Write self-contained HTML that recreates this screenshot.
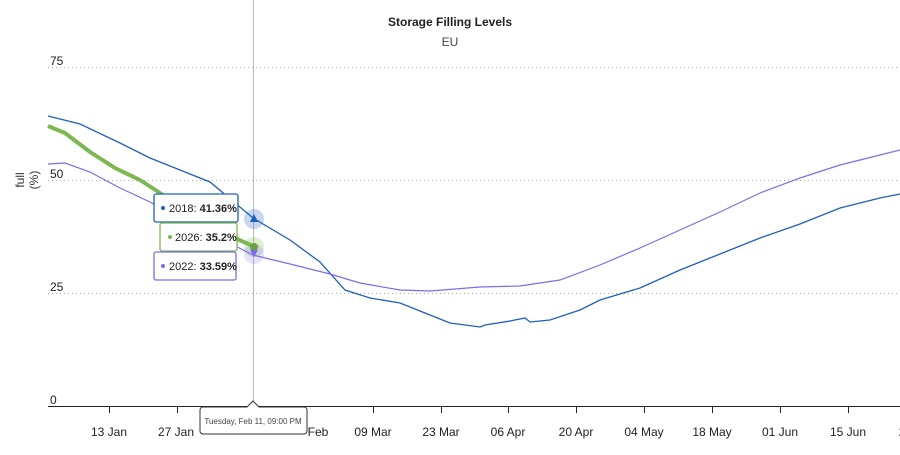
<!DOCTYPE html>
<html><head><meta charset="utf-8"><style>
body{margin:0;background:#fff;font-family:"Liberation Sans",sans-serif}
</style></head><body>
<svg width="900" height="450" xmlns="http://www.w3.org/2000/svg" font-family="Liberation Sans, sans-serif">
<rect width="900" height="450" fill="#fff"/>
<text x="450" y="26" text-anchor="middle" font-size="12" font-weight="bold" fill="#222">Storage Filling Levels</text>
<text x="450" y="46" text-anchor="middle" font-size="12" fill="#444">EU</text>
<g stroke="#b0a890" stroke-dasharray="1,3" stroke-width="1">
<line x1="48" y1="67.5" x2="900" y2="67.5"/><line x1="48" y1="180.5" x2="900" y2="180.5"/><line x1="48" y1="293.5" x2="900" y2="293.5"/>
</g>
<g font-size="12" fill="#222">
<text x="50" y="65">75</text><text x="50" y="178">50</text><text x="50" y="291">25</text><text x="50" y="404">0</text>
</g>
<text transform="translate(24,180) rotate(-90)" text-anchor="middle" font-size="12" fill="#333">full</text>
<text transform="translate(38,180) rotate(-90)" text-anchor="middle" font-size="12" fill="#333">(%)</text>
<line x1="48" y1="406.5" x2="900" y2="406.5" stroke="#222"/>
<g stroke="#222">
<line x1="109.5" y1="406" x2="109.5" y2="413"/><line x1="177.5" y1="406" x2="177.5" y2="413"/><line x1="305.5" y1="406" x2="305.5" y2="413"/><line x1="373.5" y1="406" x2="373.5" y2="413"/><line x1="441.5" y1="406" x2="441.5" y2="413"/><line x1="508.5" y1="406" x2="508.5" y2="413"/><line x1="576.5" y1="406" x2="576.5" y2="413"/><line x1="644.5" y1="406" x2="644.5" y2="413"/><line x1="712.5" y1="406" x2="712.5" y2="413"/><line x1="780.5" y1="406" x2="780.5" y2="413"/><line x1="848.5" y1="406" x2="848.5" y2="413"/>
</g>
<g font-size="12" fill="#222" text-anchor="middle">
<text x="109" y="436">13 Jan</text><text x="176" y="436">27 Jan</text><text x="318" y="436">Feb</text><text x="373" y="436">09 Mar</text><text x="441" y="436">23 Mar</text><text x="508" y="436">06 Apr</text><text x="576" y="436">20 Apr</text><text x="644" y="436">04 May</text><text x="712" y="436">18 May</text><text x="780" y="436">01 Jun</text><text x="848" y="436">15 Jun</text><text x="902" y="436">2</text>
</g>
<line x1="253.5" y1="0" x2="253.5" y2="406" stroke="#bbb"/>
<polyline fill="none" stroke="#1f5fbf" stroke-width="1.3" points="48,116 80,124 120,143 150,158 180,170 210,182 253,218 290,240 320,262 345,290 370,298 400,303 430,315 450,323 480,327 485,325 510,321 525,318 530,322 550,320 580,310 600,300 640,288 680,270 720,254 760,238 800,224 840,208 880,198 900,194"/>
<polyline fill="none" stroke="#7b6cf0" stroke-width="1.2" points="48,164 65,163 90,172 120,188 150,202 180,218 210,233 253,255 290,264 330,274 360,283 400,290 430,291 480,287 520,286 560,280 600,265 640,248 680,230 720,212 760,193 800,178 840,165 880,155 900,150"/>
<polyline fill="none" stroke="#7cb850" stroke-width="4" stroke-linejoin="round" points="48,126 65,133 90,152 115,168 140,180 160,193 200,218 230,236 253,246"/>
<circle cx="254" cy="219" r="10" fill="#1f5fbf" opacity="0.25"/>
<circle cx="254" cy="247" r="10" fill="#7cb850" opacity="0.25"/>
<circle cx="254" cy="254" r="10" fill="#7b6cf0" opacity="0.2"/>
<circle cx="254" cy="247" r="4" fill="#6aa040"/>
<path d="M250,222 L254,214 L258,222Z" fill="#1f5fbf"/>
<path d="M250,250 L254,257 L258,250Z" fill="#7b6cf0"/>
<g font-size="11" fill="#222">
<rect x="154" y="194" width="84" height="28" rx="2" fill="#fff" stroke="#1f5fbf" stroke-width="1.3"/>
<circle cx="163" cy="208" r="2" fill="#1f5fbf"/><text x="169" y="212">2018: <tspan font-weight="bold">41.36%</tspan></text>
<rect x="160" y="223" width="77" height="28" rx="2" fill="#fff" stroke="#7cb850" stroke-width="1.3"/>
<circle cx="170" cy="237" r="2" fill="#7cb850"/><text x="175" y="241">2026: <tspan font-weight="bold">35.2%</tspan></text>
<rect x="154" y="252" width="82" height="28" rx="2" fill="#fff" stroke="#7b6cf0" stroke-width="1.3"/>
<circle cx="163" cy="266" r="2" fill="#7b6cf0"/><text x="169" y="270">2022: <tspan font-weight="bold">33.59%</tspan></text>
</g>
<path d="M203,407 H247 L253,401 L259,407 H304 a3,3 0 0 1 3,3 V431 a3,3 0 0 1 -3,3 H203 a3,3 0 0 1 -3,-3 V410 a3,3 0 0 1 3,-3Z" fill="#fff" stroke="#333"/>
<text x="253" y="424" text-anchor="middle" font-size="8" fill="#444">Tuesday, Feb 11, 09:00 PM</text>
</svg>
</body></html>
